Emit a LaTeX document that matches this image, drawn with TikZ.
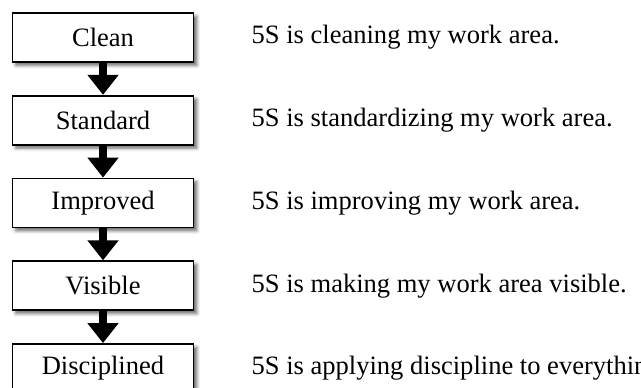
\documentclass[tikz,border=0pt]{standalone}
\usepackage{fontspec}
\setmainfont{Liberation Serif}
\usepackage{xcolor}
\usepackage{tikz}
\usetikzlibrary{positioning, arrows.meta, shadows.blur}
\definecolor{ink}{HTML}{000000}
\definecolor{panel}{HTML}{FFFFFF}

\begin{document}
\begin{tikzpicture}[
  x=0.75pt, y=0.75pt,
  font=\fontsize{19.9}{23}\selectfont,
  node distance=24pt,
  stage/.style={draw=ink, line width=1.3pt, fill=panel, minimum width=135.75pt, minimum height=36.75pt,
                inner sep=0pt, blur shadow={shadow xshift=2.5pt, shadow yshift=-2.5pt, shadow blur radius=2.5pt, shadow opacity=60}},
  note/.style={anchor=west, inner sep=0pt, text=ink},
  flow/.style={draw=ink, line width=6.5pt, -{Triangle[width=22.5pt, length=15pt]}},
]
\useasboundingbox (0,0) rectangle (641,-388);

% ---------------- stages (left column) ----------------
\node[stage] (clean) at (103,-37.5) {Clean};
\node[stage, below=of clean] (standard) {Standard};
\node[stage, below=of standard] (improved) {Improved};
\node[stage, below=of improved] (visible) {Visible};
\node[stage, below=of visible] (disciplined) {Disciplined};

% ---------------- arrows between stages ----------------
\draw[flow] (clean.south) -- (standard.north);
\draw[flow] (standard.south) -- (improved.north);
\draw[flow] (improved.south) -- (visible.north);
\draw[flow] (visible.south) -- (disciplined.north);

% ---------------- what 5S means at each stage ----------------
\node[note, right=42.75pt of clean.east] (cleantxt) {5S is cleaning my work area.};
\node[note, right=42.75pt of standard.east] (standardtxt) {5S is standardizing my work area.};
\node[note, right=42.75pt of improved.east] (improvedtxt) {5S is improving my work area.};
\node[note, right=42.75pt of visible.east] (visibletxt) {5S is making my work area visible.};
% last line runs past the right edge
\node[note, right=42.75pt of disciplined.east] (disciplinedtxt) {5S is applying discipline to everything.};

\end{tikzpicture}
\end{document}
